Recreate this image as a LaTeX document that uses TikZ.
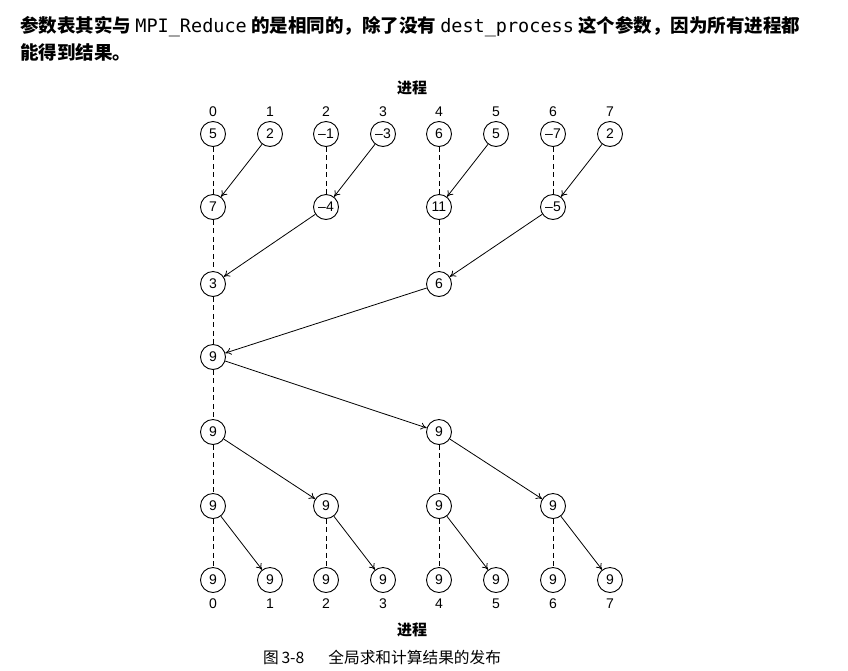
\documentclass[tikz,border=0pt]{standalone}
\usepackage{fontspec}
\setmainfont{Liberation Sans}
\setmonofont{DejaVu Sans Mono}
\newfontfamily\cjk{Noto Sans CJK SC}
\usetikzlibrary{arrows.meta}
\begin{document}
\begin{tikzpicture}[x=1pt,y=-1pt,
  proc/.style={circle,draw,line width=0.9pt,minimum size=25pt,inner sep=0pt,font=\fontsize{14}{14}\selectfont},
  dsh/.style={line width=0.8pt,dash pattern=on 5pt off 3.5pt},
  arr/.style={-{To[length=6pt,width=7pt]},line width=0.8pt},
  lbl/.style={font=\fontsize{14}{14}\selectfont},
  head/.style={font=\cjk\bfseries\fontsize{15}{15}\selectfont}]
\useasboundingbox[fill=white] (0,0) rectangle (848,670);
% top text
\node[anchor=west,inner sep=0pt,font=\fontsize{18.5}{18.5}\selectfont] (t1) at (20,27)
  {\cjk\bfseries 参数表其实与 {\ttfamily\mdseries MPI\_Reduce} 的是相同的，除了没有 {\ttfamily\mdseries dest\_process} 这个参数，因为所有进程都};
\node[anchor=west,inner sep=0pt,font=\fontsize{18.5}{18.5}\selectfont] (t2) at (20,52)
  {\cjk\bfseries 能得到结果。};
% headings
\node[head] (htop) at (412,88) {进程};
\node[head] (hbot) at (412,630) {进程};
\node[font=\cjk\fontsize{15.7}{15.7}\selectfont,anchor=west,inner sep=0pt] (cap) at (263,657) {图\,3-8\hspace{24pt}全局求和计算结果的发布};
% column x positions
\def\cx#1{\ifcase#1 213\or 270\or 326\or 383\or 439\or 496\or 553\or 610\fi}
\foreach \i in {0,...,7}{
  \node[lbl] (lt\i) at (\cx{\i},112) {\i};
  \node[lbl] (lb\i) at (\cx{\i},604) {\i};
}
% row 1
\node[proc] (a0) at (\cx{0},134) {5};
\node[proc] (a1) at (\cx{1},134) {2};
\node[proc] (a2) at (\cx{2},134) {–1};
\node[proc] (a3) at (\cx{3},134) {–3};
\node[proc] (a4) at (\cx{4},134) {6};
\node[proc] (a5) at (\cx{5},134) {5};
\node[proc] (a6) at (\cx{6},134) {–7};
\node[proc] (a7) at (\cx{7},134) {2};
% row 2
\node[proc] (b0) at (\cx{0},207) {7};
\node[proc] (b2) at (\cx{2},207) {–4};
\node[proc] (b4) at (\cx{4},207) {11};
\node[proc] (b6) at (\cx{6},207) {–5};
% row 3
\node[proc] (c0) at (\cx{0},284) {3};
\node[proc] (c4) at (\cx{4},284) {6};
% row 4
\node[proc] (d0) at (\cx{0},357) {9};
% row 5
\node[proc] (e0) at (\cx{0},432) {9};
\node[proc] (e4) at (\cx{4},432) {9};
% row 6
\node[proc] (f0) at (\cx{0},506) {9};
\node[proc] (f2) at (\cx{2},506) {9};
\node[proc] (f4) at (\cx{4},506) {9};
\node[proc] (f6) at (\cx{6},506) {9};
% row 7
\foreach \i in {0,...,7}{\node[proc] (g\i) at (\cx{\i},580) {9};}
% dashed
\draw[dsh] (a0)--(b0); \draw[dsh] (a2)--(b2); \draw[dsh] (a4)--(b4); \draw[dsh] (a6)--(b6);
\draw[dsh] (b0)--(c0); \draw[dsh] (b4)--(c4);
\draw[dsh] (c0)--(d0);
\draw[dsh] (d0)--(e0);
\draw[dsh] (e0)--(f0); \draw[dsh] (e4)--(f4);
\draw[dsh] (f0)--(g0); \draw[dsh] (f2)--(g2); \draw[dsh] (f4)--(g4); \draw[dsh] (f6)--(g6);
% arrows
\draw[arr] (a1)--(b0); \draw[arr] (a3)--(b2); \draw[arr] (a5)--(b4); \draw[arr] (a7)--(b6);
\draw[arr] (b2)--(c0); \draw[arr] (b6)--(c4);
\draw[arr] (c4)--(d0);
\draw[arr] (d0)--(e4);
\draw[arr] (e0)--(f2); \draw[arr] (e4)--(f6);
\draw[arr] (f0)--(g1); \draw[arr] (f2)--(g3); \draw[arr] (f4)--(g5); \draw[arr] (f6)--(g7);
\end{tikzpicture}
\end{document}
